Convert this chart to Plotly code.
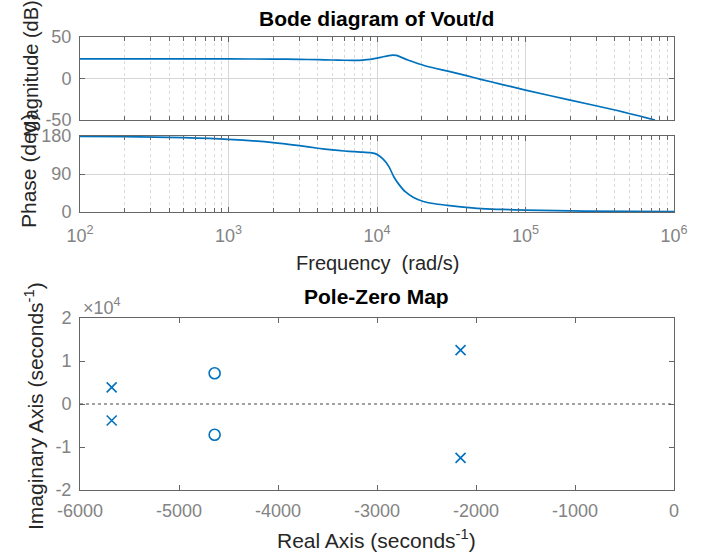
import plotly.graph_objects as go

# ---------------- data ----------------
freq_mag = [1e2, 3e2, 1e3, 2e3, 3e3, 4e3, 5e3, 6e3, 7e3, 8e3, 9e3, 1e4, 1.1e4, 1.2e4,
            1.27e4, 1.35e4, 1.45e4, 1.6e4, 1.8e4, 2.05e4, 2.5e4, 3e4, 4e4, 5e4, 7e4,
            1e5, 2e5, 4e5, 7.45e5]
mag_db = [23.7, 23.7, 23.6, 23.4, 23.1, 22.7, 22.3, 22.0, 21.9, 22.2, 23.0, 24.5, 26.2, 27.6,
          28.2, 27.8, 25.8, 22.5, 19.3, 16.0, 12.0, 8.8, 3.5, -1.0, -7.3,
          -14.0, -26.0, -38.0, -50.0]

freq_phase = [1e2, 2e2, 5e2, 1e3, 2e3, 3e3, 4e3, 5e3, 6e3, 7e3, 8e3, 9e3, 1e4, 1.1e4,
              1.2e4, 1.3e4, 1.4e4, 1.55e4, 1.75e4, 2.05e4, 2.5e4, 3.1e4, 4e4, 5.4e4, 7e4,
              1e5, 2.5e5, 1e6]
phase_deg = [179.2, 178.5, 176.0, 172.0, 164.5, 157.0, 151.0, 147.0, 144.5, 143.0, 142.0, 140.5,
             136.5, 125.0, 108.0, 83.0, 66.0, 48.0, 35.0, 25.0, 19.0, 15.0, 11.0, 7.5, 6.0,
             4.5, 2.0, 0.7]

pole_re = [-5680, -5680, -2156, -2156]
pole_im = [3850, -3850, 12540, -12540]
zero_re = [-4640, -4640]
zero_im = [7150, -7150]

mag_ticks = [-50, 0, 50]
mag_ticktext = ["-50", "0", "50"]
phase_ticks = [0, 90, 180]
freq_ticks = [1e2, 1e3, 1e4, 1e5, 1e6]
freq_ticktext = ["10<sup>2</sup>", "10<sup>3</sup>", "10<sup>4</sup>", "10<sup>5</sup>", "10<sup>6</sup>"]
freq_minor = [m * 10 ** d for d in range(2, 6) for m in range(2, 10)]
re_ticks = [-6000, -5000, -4000, -3000, -2000, -1000, 0]
re_ticktext = ["-6000", "-5000", "-4000", "-3000", "-2000", "-1000", "0"]
im_ticks = [-20000, -10000, 0, 10000, 20000]
im_ticktext = ["-2", "-1", "0", "1", "2"]

# ---------------- styling ----------------
W, H = 704, 554
BLUE = "#0072BD"
FRAME = "#666666"
TICKC = "#838383"
FONT = "Liberation Sans, Arial, Helvetica, sans-serif"


def px(x):
    return x / W


def py(y):
    return 1 - y / H


XDOM = [px(80), px(674)]

common = dict(showline=True, linecolor=FRAME, linewidth=1, mirror="allticks",
              ticks="inside", ticklen=5, tickcolor=FRAME, tickwidth=1,
              tickfont=dict(family=FONT, size=18, color=TICKC), zeroline=False,
              ticklabelstandoff=4, automargin=False)

minor_log = dict(tickvals=freq_minor, ticks="inside", ticklen=4, tickcolor=FRAME,
                 showgrid=True, gridcolor="#d9d9d9", griddash="dot", gridwidth=1)

fig = go.Figure()
fig.add_trace(go.Scatter(x=freq_mag, y=mag_db, mode="lines",
                         line=dict(color=BLUE, width=1.7, shape="spline", smoothing=0.6),
                         xaxis="x", yaxis="y", showlegend=False, hoverinfo="skip"))
fig.add_trace(go.Scatter(x=freq_phase, y=phase_deg, mode="lines",
                         line=dict(color=BLUE, width=1.7, shape="spline", smoothing=0.6),
                         xaxis="x2", yaxis="y2", showlegend=False, hoverinfo="skip"))
fig.add_trace(go.Scatter(x=pole_re, y=pole_im, mode="markers",
                         marker=dict(symbol="x-thin-open", size=10, color=BLUE,
                                     line=dict(color=BLUE, width=1.6)),
                         xaxis="x3", yaxis="y3", showlegend=False, hoverinfo="skip"))
fig.add_trace(go.Scatter(x=zero_re, y=zero_im, mode="markers",
                         marker=dict(symbol="circle-open", size=11, color=BLUE,
                                     line=dict(color=BLUE, width=1.6)),
                         xaxis="x3", yaxis="y3", showlegend=False, hoverinfo="skip"))

fig.update_layout(
    width=W, height=H, margin=dict(l=0, r=0, t=0, b=0, autoexpand=False),
    paper_bgcolor="white", plot_bgcolor="white",
    xaxis=dict(common, type="log", range=[2, 6], domain=XDOM, anchor="y",
               tickvals=freq_ticks, ticktext=freq_ticktext, showticklabels=False,
               showgrid=True, gridcolor="#d6d6d6", minor=minor_log),
    yaxis=dict(common, range=[-50, 50], domain=[py(120), py(37)], anchor="x",
               tickvals=mag_ticks, ticktext=mag_ticktext, showgrid=True, gridcolor="#d6d6d6"),
    xaxis2=dict(common, type="log", range=[2, 6], domain=XDOM, anchor="y2",
                tickvals=freq_ticks, ticktext=freq_ticktext, ticklabelstandoff=7,
                showgrid=True, gridcolor="#d6d6d6", minor=minor_log),
    yaxis2=dict(common, range=[0, 180], domain=[py(212), py(136)], anchor="x2",
                tickvals=phase_ticks, showgrid=True, gridcolor="#d6d6d6"),
    xaxis3=dict(common, range=[-6000, 0], domain=XDOM, anchor="y3",
                tickvals=re_ticks, ticktext=re_ticktext, showgrid=False),
    yaxis3=dict(common, range=[-20000, 20000], domain=[py(490), py(318)], anchor="x3",
                tickvals=im_ticks, ticktext=im_ticktext, showgrid=False),
)

fig.add_shape(type="line", xref="x3 domain", x0=0, x1=1, yref="y3", y0=0, y1=0,
              line=dict(color="#444444", width=1, dash="dot"))


def label(text, x, y, size=18, color="#262626", angle=0, xanchor="center", bold=False):
    if bold:
        text = "<b>" + text + "</b>"
    fig.add_annotation(text=text, x=px(x), y=py(y), xref="paper", yref="paper",
                       showarrow=False, textangle=angle, xanchor=xanchor, yanchor="middle",
                       font=dict(family=FONT, size=size, color=color))


label("Bode diagram of Vout/d", 376, 18, size=21, color="#000000", bold=True)
label("Pole-Zero Map", 376, 296, size=21, color="#000000", bold=True)
label("Magnitude (dB)", 31, 69, size=20, angle=-90)
label("Phase (deg)", 29, 171, size=21, angle=-90)
label("Frequency\u00a0\u00a0(rad/s)", 377, 263, size=20)
label("Real Axis (seconds<sup>-1</sup>)", 376, 539, size=21)
label("Imaginary Axis (seconds<sup>-1</sup>)", 34, 406, size=21, angle=-90)
label("\u00d710<sup>4</sup>", 81, 306, size=18, color=TICKC, xanchor="left")

fig.write_html("out.html")
